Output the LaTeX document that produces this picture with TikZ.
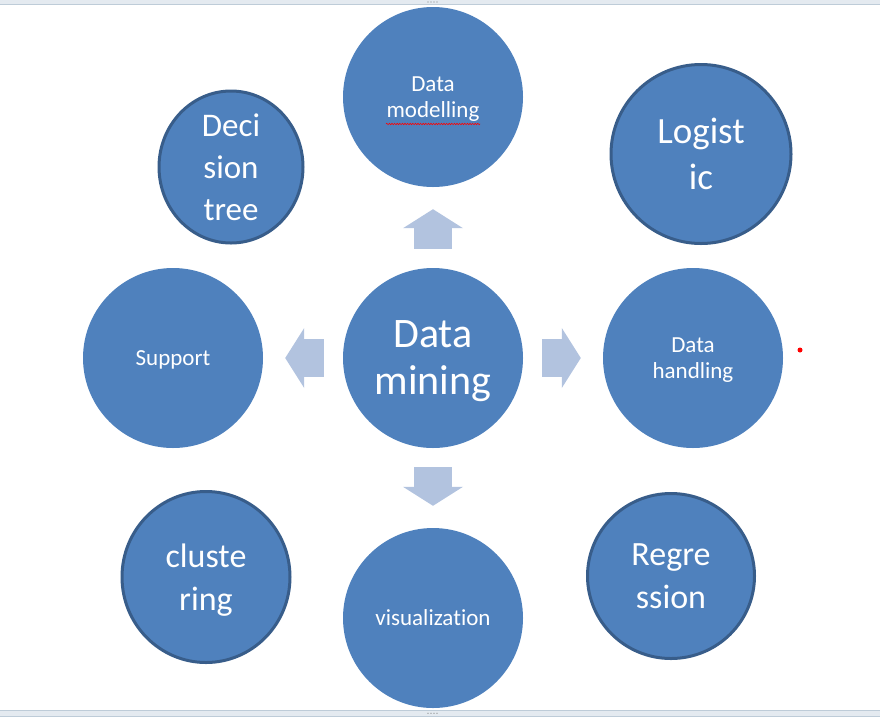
\documentclass[tikz,border=0pt]{standalone}
\usepackage{fontspec}
\setmainfont[Ligatures={NoCommon}]{Carlito}
\usepackage{tikz}
\usetikzlibrary{shapes.geometric,arrows.meta,decorations.pathmorphing}

\definecolor{topicblue}{RGB}{79,129,189}
\definecolor{rimblue}{RGB}{56,93,138}
\definecolor{flowblue}{RGB}{178,195,223}
\definecolor{framegrey}{RGB}{228,234,240}
\definecolor{frameline}{RGB}{190,204,216}

\begin{document}
\begin{tikzpicture}[x=1pt,y=-1pt]
    % `topic' is used for the plain circles round the hub.
    % `method' is used for the corner circles with a dark rim.
    % `flow' is used for the broad arrows leaving the hub.
    \tikzstyle{topic} = [circle,fill=topicblue,text=white,align=center,inner sep=0pt,text depth=0pt,minimum size=180pt,font=\fontsize{23}{26}\selectfont]
    \tikzstyle{method} = [ellipse,fill=topicblue,draw=rimblue,line width=3pt,text=white,align=center,inner sep=0pt,text depth=0pt]
    \tikzstyle{flow} = [draw=flowblue,line width=38pt,-{Triangle[length=19pt,width=60pt,line width=0pt]},shorten <=19pt,shorten >=22pt]
    %
    \useasboundingbox (0,0) rectangle (880,721);
    % Frame of the canvas.
    \fill[framegrey] (0,0) rectangle (880,4.5);
    \draw[frameline] (0,4.5) -- (880,4.5);
    \fill[framegrey] (0,710.5) rectangle (880,716);
    \draw[frameline] (0,710.5) -- (880,710.5) (0,716) -- (880,716);
    \foreach \x in {428,431,434,437} {
      \fill[gray] (\x,2) circle (0.6pt);
      \fill[gray] (\x,713.3) circle (0.6pt);
    }
    %
    \node[topic,font=\fontsize{42}{47}\selectfont] (mining) at (433,358) {Data\\mining};
    \node[topic] (modelling) at (433,97) {Data\\modelling};
    \node[topic] (handling) at (693,358) {Data\\handling};
    \node[topic] (support) at (173,358) {Support};
    \node[topic] (visual) at (433,618) {visualization};
    %
    \node[method,minimum width=144pt,minimum height=152pt,font=\fontsize{33}{42}\selectfont] (tree) at (231,167) {Deci\\sion\\tree};
    \node[method,minimum width=180pt,minimum height=179pt,font=\fontsize{37}{46}\selectfont] (logistic) at (701,154) {Logist\\ic};
    \node[method,minimum width=168pt,minimum height=171pt,font=\fontsize{34}{43}\selectfont] (cluster) at (206,577) {cluste\\ring};
    \node[method,minimum width=167pt,minimum height=165pt,font=\fontsize{34}{43}\selectfont] (regress) at (671,576) {Regre\\ssion};
    %
    \draw[flow] (mining) -- (modelling);
    \draw[flow] (mining) -- (handling);
    \draw[flow] (mining) -- (support);
    \draw[flow] (mining) -- (visual);
    % Spelling mark and pointer.
    \draw[red,line width=0.6pt,decorate,decoration={snake,amplitude=0.7pt,segment length=2.6pt}] (386,124) -- (480,124);
    \fill[red] (800,350) circle (2.5pt);
\end{tikzpicture}
\end{document}
